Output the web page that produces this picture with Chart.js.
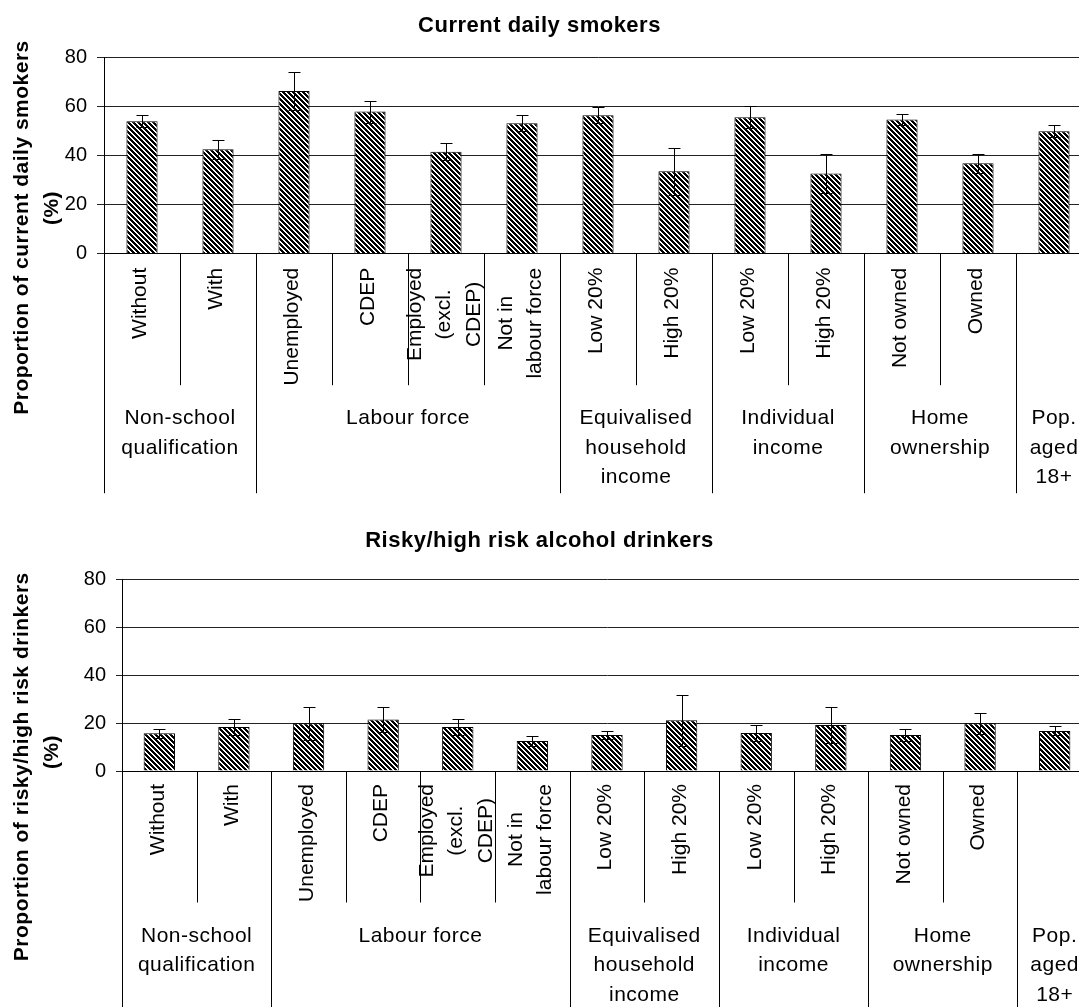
<!DOCTYPE html>
<html>
<head>
<meta charset="utf-8">
<title>Current daily smokers / Risky alcohol drinkers</title>
<script src="https://cdn.jsdelivr.net/npm/chart.js@4.4.1/dist/chart.umd.min.js"></script>
<style>
  html, body { margin: 0; padding: 0; background: #fff; overflow: hidden; }
  canvas { display: block; }
</style>
</head>
<body>
<canvas id="smokersChart" width="1079" height="505"></canvas>
<canvas id="drinkersChart" width="1079" height="502"></canvas>
<script>
// categories (one entry per bar, split into the lines shown under the axis)
const categories = [
    ['Without'], ['With'],
    ['Unemployed'], ['CDEP'], ['Employed', '(excl.', 'CDEP)'], ['Not in', 'labour force'],
    ['Low 20%'], ['High 20%'],
    ['Low 20%'], ['High 20%'],
    ['Not owned'], ['Owned'],
    ['']
];
const groupNames = [
    ['Non-school', 'qualification'],
    ['Labour force'],
    ['Equivalised', 'household', 'income'],
    ['Individual', 'income'],
    ['Home', 'ownership'],
    ['Pop.', 'aged', '18+']
];
const groupSizes = [2, 4, 2, 2, 2, 1];
const yTicks = [0, 20, 40, 60, 80];

// values (%) and half-width of the error bars
const smokers = [54.0, 42.5, 66.3, 57.9, 41.5, 53.1, 56.4, 33.6, 55.6, 32.7, 54.7, 36.8, 49.9];
const smokersErr = [2.5, 4.0, 7.9, 4.5, 3.4, 3.2, 3.3, 9.6, 4.6, 8.1, 2.4, 3.9, 2.4];
const drinkers = [15.7, 18.3, 19.9, 21.5, 18.3, 12.5, 15.0, 21.1, 15.8, 19.2, 15.0, 19.9, 16.7];
const drinkersErr = [2.0, 3.5, 6.9, 5.3, 3.5, 1.9, 1.8, 10.5, 3.5, 7.6, 2.6, 4.4, 1.9];

const FONT = '"Liberation Sans", Arial, sans-serif';
Chart.defaults.font.family = FONT;
Chart.defaults.color = '#000';

// diagonal black/white stripes like the excel fill
function hatch(canvas) {
    const p = 5;
    const tile = document.createElement('canvas');
    tile.width = p; tile.height = p;
    const g = tile.getContext('2d');
    const img = g.createImageData(p, p);
    for (let y = 0; y < p; y++) {
        for (let x = 0; x < p; x++) {
            const i = (y * p + x) * 4;
            const v = ((x - y + 2 * p) % p) < 3 ? 0 : 255;
            img.data[i] = img.data[i + 1] = img.data[i + 2] = v;
            img.data[i + 3] = 255;
        }
    }
    g.putImageData(img, 0, 0);
    return canvas.getContext('2d').createPattern(tile, 'repeat');
}

const groupedAxis = {
    id: 'groupedAxis',
    afterDatasetsDraw(chart, args, opts) {
        // error bars
        const ctx = chart.ctx, ys = chart.scales.y;
        const ds = chart.data.datasets[0];
        ctx.save();
        ctx.strokeStyle = '#000';
        ctx.lineWidth = 1;
        chart.getDatasetMeta(0).data.forEach((bar, i) => {
            const v = ds.data[i], e = ds.errors[i];
            const x = Math.round(bar.x) + 0.5;
            const top = Math.round(ys.getPixelForValue(v + e)) + 0.5;
            const bot = Math.round(ys.getPixelForValue(v - e)) + 0.5;
            ctx.beginPath();
            ctx.moveTo(x, top); ctx.lineTo(x, bot);
            ctx.moveTo(x - opts.cap, top); ctx.lineTo(x + opts.cap, top);
            ctx.moveTo(x - opts.cap, bot); ctx.lineTo(x + opts.cap, bot);
            ctx.stroke();
        });
        ctx.restore();
    },
    afterDraw(chart, args, opts) {
        const ctx = chart.ctx, xs = chart.scales.x, area = chart.chartArea;
        const n = chart.data.labels.length;
        const w = (area.right - area.left) / n;
        const base = area.bottom;
        ctx.save();
        ctx.strokeStyle = '#000';
        ctx.fillStyle = '#000';
        ctx.lineWidth = 1;

        // separators: short between categories, long between groups
        const ends = new Set([0]);
        let acc = 0;
        groupSizes.forEach(s => { acc += s; ends.add(acc); });
        ctx.beginPath();
        for (let i = 0; i <= n; i++) {
            const px = Math.round(xs.getPixelForValue(i) - w / 2) + 0.5;
            ctx.moveTo(px, base);
            ctx.lineTo(px, base + (ends.has(i) ? opts.groupDepth : opts.tickDepth));
        }
        ctx.stroke();

        // rotated category labels
        ctx.font = '21px ' + FONT;
        categories.forEach((lines, i) => {
            const cx = xs.getPixelForValue(i);
            const maxW = Math.max(...lines.map(t => ctx.measureText(t).width));
            ctx.save();
            ctx.translate(cx - 1.5, base + opts.labelGap);
            ctx.rotate(-Math.PI / 2);
            ctx.textAlign = 'center';
            ctx.textBaseline = 'middle';
            lines.forEach((t, k) => ctx.fillText(t, -maxW / 2, (k - (lines.length - 1) / 2) * opts.lineStep));
            ctx.restore();
        });

        // group labels
        ctx.letterSpacing = '0.5px';
        ctx.textAlign = 'center';
        ctx.textBaseline = 'alphabetic';
        let start = 0;
        groupNames.forEach((lines, g) => {
            const left = xs.getPixelForValue(start) - w / 2;
            const right = xs.getPixelForValue(start + groupSizes[g] - 1) + w / 2;
            lines.forEach((t, k) => ctx.fillText(t, (left + right) / 2, base + opts.groupBaseline + k * opts.lineStep));
            start += groupSizes[g];
        });

        // chart title, centred on the visible page
        ctx.font = 'bold 22px ' + FONT;
        ctx.fillText(opts.title, document.documentElement.clientWidth / 2, opts.titleBaseline);

        // y axis title
        ctx.font = 'bold 21px ' + FONT;
        ctx.textBaseline = 'middle';
        opts.yTitle.forEach((t, k) => {
            ctx.save();
            ctx.translate(opts.yTitleX[k], opts.yTitleY[k]);
            ctx.rotate(-Math.PI / 2);
            ctx.fillText(t, 0, 0);
            ctx.restore();
        });
        ctx.restore();
    }
};

function makeChart(id, values, errors, style) {
    const canvas = document.getElementById(id);
    // the plot runs a little past the right edge of the page, as in the source
    canvas.width = style.right + 1;
    return new Chart(canvas, {
        type: 'bar',
        data: {
            labels: categories.map(c => c.join(' ')),
            datasets: [{
                data: values,
                errors: errors,
                backgroundColor: hatch(canvas),
                borderColor: '#000',
                borderWidth: 1,
                barPercentage: style.barPct,
                categoryPercentage: 1
            }]
        },
        options: {
            responsive: false,
            animation: false,
            events: [],
            layout: {
                padding: {
                    top: style.top,
                    bottom: canvas.height - style.bottom,
                    left: 0,
                    right: canvas.width - style.right
                }
            },
            plugins: {
                legend: { display: false },
                tooltip: { enabled: false },
                title: { display: false },
                groupedAxis: style
            },
            scales: {
                x: {
                    grid: { display: false },
                    ticks: { display: false },
                    border: { color: '#000', width: 1 },
                    afterFit: s => { s.height = 0; }
                },
                y: {
                    min: yTicks[0],
                    max: yTicks[yTicks.length - 1],
                    afterBuildTicks: s => { s.ticks = yTicks.map(v => ({ value: v })); },
                    ticks: { color: '#000', padding: 10, font: { size: 20 } },
                    grid: { color: '#222', tickLength: style.tick },
                    border: { color: '#000', width: 1 },
                    afterFit: s => { s.width = style.left; }
                }
            }
        },
        plugins: [groupedAxis]
    });
}

makeChart('smokersChart', smokers, smokersErr, {
    top: 57.3, bottom: 253.7, left: 104, right: 1092, tick: 7, barPct: 0.41,
    cap: 6, tickDepth: 131.5, groupDepth: 239.5, labelGap: 14, lineStep: 29.5, groupBaseline: 170.5,
    title: 'Current daily smokers', titleBaseline: 31.5,
    yTitle: ['Proportion of current daily smokers', '(%)'], yTitleX: [22.5, 52], yTitleY: [227.5, 208]
});

makeChart('drinkersChart', drinkers, drinkersErr, {
    top: 74, bottom: 266, left: 122, right: 1092, tick: 6, barPct: 0.42,
    cap: 6, tickDepth: 131.5, groupDepth: 239.5, labelGap: 13, lineStep: 29.5, groupBaseline: 170.5,
    title: 'Risky/high risk alcohol drinkers', titleBaseline: 42.3,
    yTitle: ['Proportion of risky/high risk drinkers', '(%)'], yTitleX: [22.5, 52], yTitleY: [261.7, 247]
});
</script>
</body>
</html>
